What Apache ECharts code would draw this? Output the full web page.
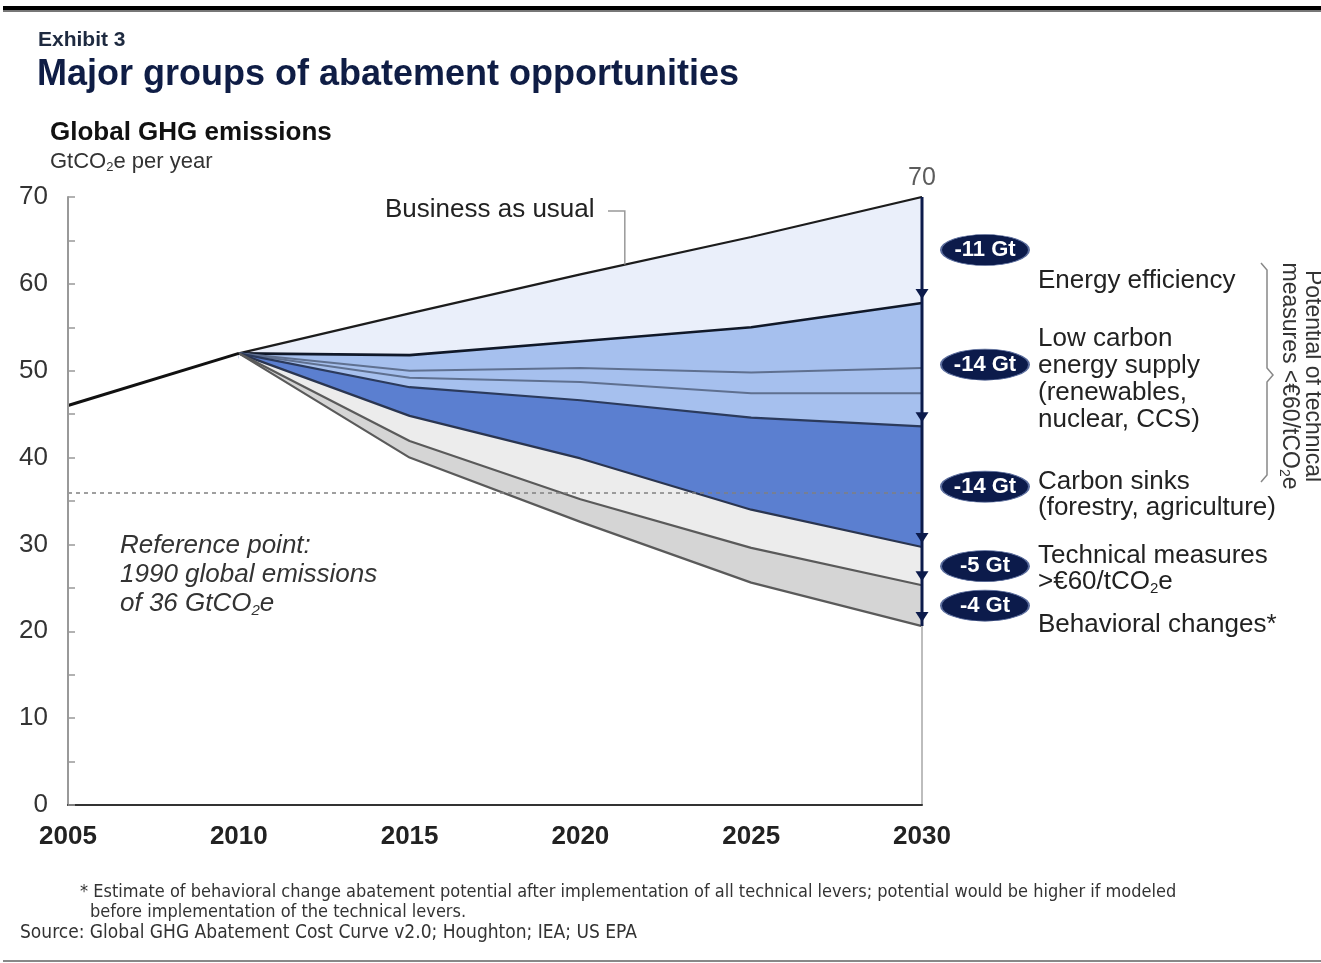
<!DOCTYPE html>
<html>
<head>
<meta charset="utf-8">
<script src="https://cdn.jsdelivr.net/npm/echarts@6/dist/echarts.min.js"></script>
<style>
html,body{margin:0;padding:0;background:#fff;}
#c{width:1321px;height:963px;}
</style>
</head>
<body>
<div id="c"></div>
<script>
// ---- data ----
const histYears = [2005, 2010];
const histValues = [46, 52];
const years = [2010, 2015, 2020, 2025, 2030];
const bau        = [52, 56.6, 61.1, 65.4, 70];
const energyEff  = [52, 51.8, 53.4, 55.0, 57.8];
const lowCarbon1 = [52, 50.0, 50.3, 49.8, 50.3];
const lowCarbon2 = [52, 49.2, 48.7, 47.4, 47.4];
const lowCarbon3 = [52, 48.1, 46.6, 44.6, 43.6];
const carbonSinks= [52, 44.8, 39.9, 34.0, 29.7];
const technical  = [52, 41.9, 35.2, 29.6, 25.3];
const behavioral = [52, 40.0, 32.6, 25.6, 20.6];
const referencePoint = 36;
const savingsLabels = ['-11 Gt', '-14 Gt', '-14 Gt', '-5 Gt', '-4 Gt'];
const xTicks = [2005, 2010, 2015, 2020, 2025, 2030];
const yTicks = [0, 10, 20, 30, 40, 50, 60, 70];

const FONT = '"Liberation Sans", Arial, sans-serif';
const NAVY = '#0c1b4b';

// boundaries drawn from top to bottom; each fills down to the axis, later ones cover earlier ones
const boundaries = [bau, energyEff, lowCarbon1, lowCarbon2, lowCarbon3, carbonSinks, technical, behavioral];
const fillColors = ['#eaeffa', '#a6c0ee', '#a6c0ee', '#a6c0ee', '#5b7fd0', '#ececec', '#d5d5d5', '#ffffff'];
const lineColors = ['#1c1c1c', '#101828', '#5f7090', '#5f7090', '#2b3a5c', '#2a3550', '#5a5a5a', '#5a5a5a'];
const lineWidths = [2.2, 2.6, 2, 2, 2.2, 2.2, 2.2, 2.2];

const series = [];
boundaries.forEach((b, i) => {
  series.push({
    type: 'line',
    data: years.map((y, k) => [y, b[k]]),
    symbol: 'none',
    lineStyle: { color: lineColors[i], width: lineWidths[i] },
    areaStyle: { color: fillColors[i], opacity: 1, origin: 'start' },
    z: 2,
    silent: true
  });
});

// white seam cover below the 2010 fan point
series.push({
  type: 'line',
  data: [[2010, 0], [2010, histValues[1] - 0.6]],
  symbol: 'none',
  lineStyle: { color: '#ffffff', width: 3 },
  z: 3,
  silent: true
});

series.push({
  type: 'line',
  data: histYears.map((y, k) => [y, histValues[k]]),
  symbol: 'none',
  lineStyle: { color: '#111', width: 3 },
  z: 4,
  markLine: {
    silent: true,
    symbol: 'none',
    label: { show: false },
    lineStyle: { color: '#808080', type: [4, 4], width: 1.5 },
    data: [{ yAxis: referencePoint }]
  }
});

// lower gray continuation of 2030 line
series.push({
  type: 'line',
  data: [[2030, behavioral[4]], [2030, 0]],
  symbol: 'none',
  lineStyle: { color: '#bdbdbd', width: 2 },
  z: 5
});
// navy arrow shaft
series.push({
  type: 'line',
  data: [[2030, bau[4]], [2030, behavioral[4]]],
  symbol: 'none',
  lineStyle: { color: NAVY, width: 3 },
  z: 6
});
// arrowheads
const arrowTargets = [energyEff[4], lowCarbon3[4], carbonSinks[4], technical[4], behavioral[4]];
series.push({
  type: 'scatter',
  data: arrowTargets.map(v => [2030, v]),
  symbol: 'triangle',
  symbolRotate: 180,
  symbolSize: [13, 10],
  symbolOffset: [0, -9],
  itemStyle: { color: NAVY, opacity: 1 },
  z: 7,
  silent: true
});
// top value label
series.push({
  type: 'scatter',
  data: [[2030, bau[4]]],
  symbolSize: 0,
  label: { show: true, position: 'top', distance: 6, formatter: p => p.value[1], color: '#333', fontSize: 25, fontFamily: FONT },
  z: 7
});
// badges
const tops = [bau[4], energyEff[4], lowCarbon3[4], carbonSinks[4], technical[4]];
const bottoms = [energyEff[4], lowCarbon3[4], carbonSinks[4], technical[4], behavioral[4]];
series.push({
  type: 'scatter',
  data: tops.map((t, i) => ({ value: [2030, (t + bottoms[i]) / 2], name: savingsLabels[i] })),
  symbol: 'path://M0,15 A45,15 0 1,1 90,15 A45,15 0 1,1 0,15 Z',
  symbolSize: [88, 31],
  symbolOffset: [63, 0],
  itemStyle: { color: NAVY, borderColor: '#5a6c9c', borderWidth: 1.2, opacity: 1 },
  label: {
    show: true, position: 'inside',
    formatter: p => p.name, color: '#fff', fontSize: 22, fontWeight: 'bold', fontFamily: FONT
  },
  z: 8
});

const chart = echarts.init(document.getElementById('c'), null, { renderer: 'canvas' });
const option = {
  animation: false,
  backgroundColor: '#fff',
  grid: { left: 68, right: 399, top: 197, bottom: 158, containLabel: false },
  xAxis: {
    type: 'value', min: 2005, max: 2030, interval: 5, z: 10,
    axisLine: { lineStyle: { color: '#333', width: 2 } },
    axisTick: { show: false },
    splitLine: { show: false },
    axisLabel: { color: '#222', fontSize: 26, fontWeight: 'bold', fontFamily: FONT, margin: 19,
      formatter: v => xTicks.includes(v) ? String(v) : '' }
  },
  yAxis: {
    type: 'value', min: 0, max: 70, interval: 10, z: 10,
    axisLine: { show: true, lineStyle: { color: '#999', width: 2 } },
    axisTick: { show: true, inside: true, length: 7, lineStyle: { color: '#999', width: 1.5 } },
    minorTick: { show: true, splitNumber: 2, length: 7, lineStyle: { color: '#999', width: 1.5 } },
    splitLine: { show: false },
    axisLabel: { color: '#333', fontSize: 26, fontFamily: FONT, margin: 20,
      formatter: v => yTicks.includes(v) ? String(v) : '' }
  },
  series: series,
  graphic: []
};
chart.setOption(option);

// annotation graphics
const g = [];
const txt = (x, y, text, style) => g.push({ type: 'text', left: x, top: y, silent: true, z: 100,
  style: Object.assign({ text: text, fontFamily: FONT, fill: '#222' }, style) });

// frame lines
g.push({ type: 'rect', z: 100, shape: { x: 3, y: 6, width: 1318, height: 4 }, style: { fill: '#000' } });
g.push({ type: 'rect', z: 100, shape: { x: 3, y: 10, width: 1318, height: 2 }, style: { fill: '#777' } });
g.push({ type: 'rect', z: 100, shape: { x: 3, y: 960, width: 1318, height: 2 }, style: { fill: '#888' } });

txt(38, 30, 'Exhibit 3', { fontSize: 21, fontWeight: 'bold', fill: '#1e2a40' });
txt(37, 57, 'Major groups of abatement opportunities', { fontSize: 36, fontWeight: 'bold', fill: '#0f1d45' });
txt(50, 120, 'Global GHG emissions', { fontSize: 26, fontWeight: 'bold', fill: '#111' });
g.push({ type: 'text', left: 50, top: 151, silent: true, z: 100, style: {
  text: '{a|GtCO}{s|2}{a|e per year}', fontFamily: FONT,
  rich: { a: { fontSize: 22, fill: '#333', fontFamily: FONT }, s: { fontSize: 13, fill: '#333', fontFamily: FONT, padding: [10, 0, 0, 0] } } } });

// reference point text
const refRich = { a: { fontSize: 26, fontStyle: 'italic', fill: '#333', fontFamily: FONT, lineHeight: 29 },
  s: { fontSize: 15, fontStyle: 'italic', fill: '#333', fontFamily: FONT, padding: [13, 0, 0, 0], lineHeight: 29 } };
g.push({ type: 'text', left: 120, top: 533, silent: true, z: 100, style: {
  text: '{a|Reference point:}\n{a|1990 global emissions}\n{a|of 36 GtCO}{s|2}{a|e}', rich: refRich } });

// right-hand labels
const rs = { fontSize: 26, fill: '#222' };
txt(1038, 268, 'Energy efficiency', rs);
txt(1038, 326, 'Low carbon', rs);
txt(1038, 353, 'energy supply', rs);
txt(1038, 380, '(renewables,', rs);
txt(1038, 407, 'nuclear, CCS)', rs);
txt(1038, 469, 'Carbon sinks', rs);
txt(1038, 495, '(forestry, agriculture)', rs);
txt(1038, 543, 'Technical measures', rs);
g.push({ type: 'text', left: 1038, top: 569, silent: true, z: 100, style: {
  text: '{a|>€60/tCO}{s|2}{a|e}', rich: { a: { fontSize: 26, fill: '#222', fontFamily: FONT }, s: { fontSize: 15, fill: '#222', fontFamily: FONT, padding: [13, 0, 0, 0] } } } });
txt(1038, 612, 'Behavioral changes*', rs);

// brace
g.push({ type: 'polyline', silent: true, z: 100, shape: { points: [[1261, 263], [1267, 270], [1267, 368], [1273, 375], [1267, 382], [1267, 475], [1261, 482]] },
  style: { stroke: '#888', lineWidth: 1.5, fill: null } });
// rotated text
g.push({ type: 'text', x: 1289, y: 376, rotation: -Math.PI / 2, silent: true, z: 100,
  style: { text: '{a|measures <€60/tCO}{s|2}{a|e}', align: 'center', verticalAlign: 'middle',
    rich: { a: { fontSize: 23, fill: '#333', fontFamily: FONT }, s: { fontSize: 14, fill: '#333', fontFamily: FONT, padding: [10, 0, 0, 0] } } } });
g.push({ type: 'text', x: 1312, y: 376, rotation: -Math.PI / 2, silent: true, z: 100,
  style: { text: 'Potential of technical', align: 'center', verticalAlign: 'middle', fontSize: 23, fill: '#333', fontFamily: FONT } });

// BAU label with leader
const bauX = 2021.3;
let bauY = 0;
for (let k = 0; k < years.length - 1; k++) {
  if (bauX >= years[k] && bauX <= years[k + 1]) {
    bauY = bau[k] + (bau[k + 1] - bau[k]) * (bauX - years[k]) / (years[k + 1] - years[k]);
  }
}
const pt = chart.convertToPixel({ gridIndex: 0 }, [bauX, bauY]);
txt(385, 197, 'Business as usual', { fontSize: 26, fill: '#222' });
g.push({ type: 'polyline', silent: true, z: 100, shape: { points: [[608, 211], [pt[0], 211], [pt[0], pt[1]]] },
  style: { stroke: '#999', lineWidth: 1.5, fill: null } });

// footnotes
const NARROW = '"Liberation Sans Narrow", "DejaVu Sans Condensed", "Liberation Sans", sans-serif';
txt(80, 883, '* Estimate of behavioral change abatement potential after implementation of all technical levers; potential would be higher if modeled', { fontSize: 18, fill: '#333', fontFamily: NARROW });
txt(90, 903, 'before implementation of the technical levers.', { fontSize: 18, fill: '#333', fontFamily: NARROW });
txt(20, 924, 'Source: Global GHG Abatement Cost Curve v2.0; Houghton; IEA; US EPA', { fontSize: 19, fill: '#333', fontFamily: NARROW });

chart.setOption({ graphic: g });
</script>
</body>
</html>
